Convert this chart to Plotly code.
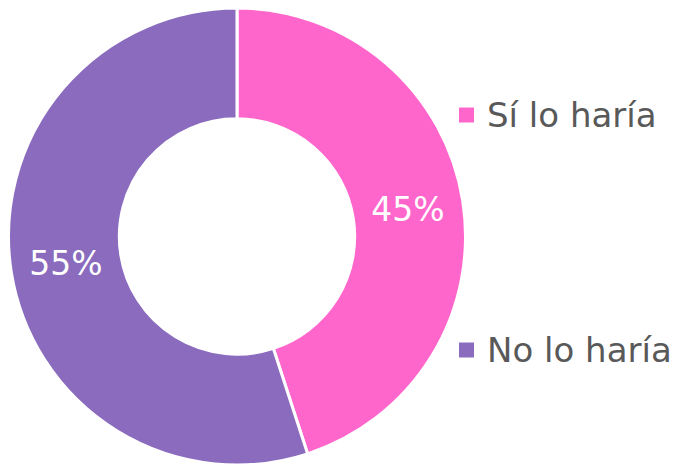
import plotly.graph_objects as go

labels = ["Sí lo haría", "No lo haría"]
values = [45, 55]
colors = ["#FF66CC", "#8A6BBE"]
legend_y_px = [107, 342]

W, H = 687, 466
FONT = "DejaVu Sans"

fig = go.Figure(go.Pie(
    labels=labels,
    values=values,
    hole=0.515,
    sort=False,
    direction="clockwise",
    rotation=0,
    marker=dict(colors=colors, line=dict(color="white", width=3)),
    texttemplate="%{percent:.0%}",
    textposition="inside",
    insidetextorientation="horizontal",
    insidetextfont=dict(color="white", size=33, family=FONT),
    showlegend=False,
    hoverinfo="label+percent",
    domain=dict(x=[0, 458 / W], y=[(H - 457) / H, 1]),
))

shapes = []
annotations = []
for lab, col, ypx in zip(labels, colors, legend_y_px):
    shapes.append(dict(type="rect", xref="paper", yref="paper",
                       x0=451 / W, x1=466 / W,
                       y0=(H - ypx - 7.5) / H, y1=(H - ypx + 7.5) / H,
                       fillcolor=col, line=dict(width=0)))
    annotations.append(dict(text=lab, xref="paper", yref="paper",
                            x=477 / W, y=(H - ypx) / H,
                            xanchor="left", yanchor="middle", showarrow=False,
                            font=dict(size=34, color="#595959", family=FONT)))

fig.update_layout(
    width=W, height=H,
    margin=dict(l=0, r=0, t=0, b=0),
    paper_bgcolor="white",
    plot_bgcolor="white",
    shapes=shapes,
    annotations=annotations,
)

fig.write_html("out.html")
